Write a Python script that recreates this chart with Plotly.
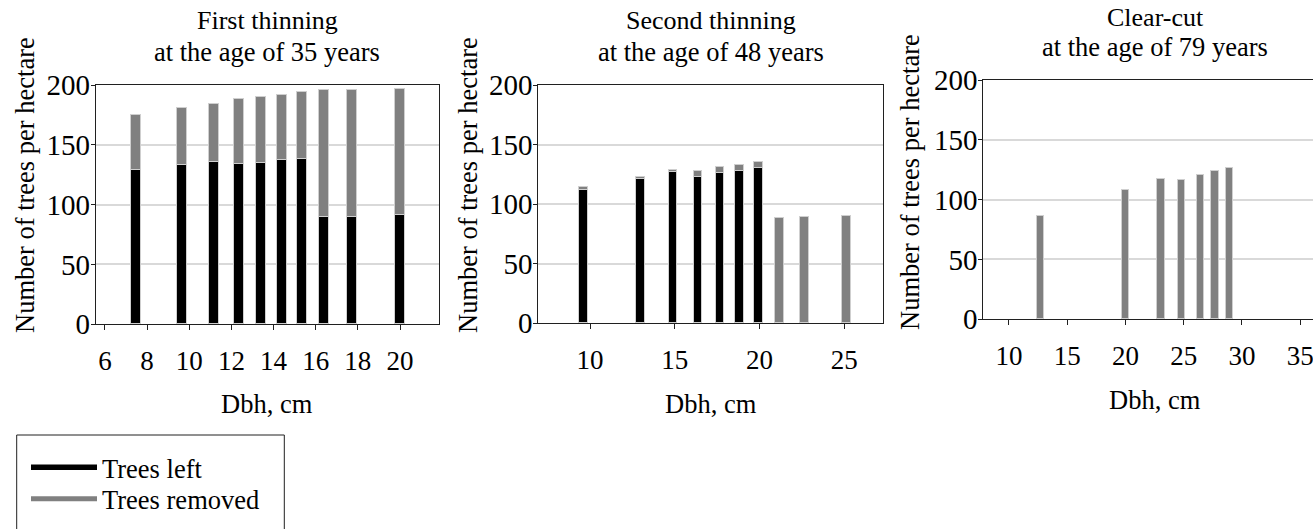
import plotly.graph_objects as go

# ---------------- data ----------------
p1_dbh = [7.44, 9.65, 11.14, 12.35, 13.39, 14.37, 15.35, 16.39, 17.71, 20.0]
p1_left = [129, 133, 136, 134, 135, 137, 138, 90, 90, 91]
p1_removed = [46, 48, 48, 54, 55, 55, 56, 106, 106, 106]

p2_dbh = [9.63, 12.98, 14.91, 16.39, 17.68, 18.82, 19.97, 21.19, 22.65, 25.13]
p2_left = [112, 121, 127, 123, 126, 128, 130, 0, 0, 0]
p2_removed = [2, 1.5, 1.5, 5, 5, 5, 5, 88, 89.5, 90]

p3_dbh = [12.73, 20.05, 23.07, 24.83, 26.48, 27.72, 28.98]
p3_left = [0, 0, 0, 0, 0, 0, 0]
p3_removed = [86, 108, 117.5, 116.5, 120.5, 124, 126.7]

title_line1 = ["First thinning", "Second thinning", "Clear-cut"]
title_line2 = ["at the age of 35 years", "at the age of 48 years", "at the age of 79 years"]
x_title = "Dbh, cm"
y_title = "Number of trees per hectare"
series_names = ["Trees left", "Trees removed"]
y_ticks = [0, 50, 100, 150, 200]

# ---------------- styling ----------------
W, H = 1313, 529
FONT = "Liberation Serif, Times New Roman, Times, serif"
BLACK = "#000000"
GRAY = "#808080"
EDGE = "#cfcfcf"

def px_x(p):
    return p / W

def px_y(p):
    return 1 - p / H

panels = [
    dict(dbh=p1_dbh, left=p1_left, rem=p1_removed, xd=(95.7, 439.0), yd=(85.0, 324.3),
         rng=[5.56, 21.85], dtick=2, width=0.48, tcx=267, t1=4, t2=35,
         ytx=25, yty=185, xty=404),
    dict(dbh=p2_dbh, left=p2_left, rem=p2_removed, xd=(538.3, 883.3), yd=(85.0, 323.3),
         rng=[6.95, 27.3], dtick=5, width=0.52, tcx=711, t1=4, t2=35,
         ytx=468, yty=185, xty=404),
    dict(dbh=p3_dbh, left=p3_left, rem=p3_removed, xd=(983.3, 1313.0), yd=(80.0, 319.3),
         rng=[7.8, 36.1], dtick=5, width=0.63, tcx=1155, t1=0.5, t2=30,
         ytx=910, yty=182, xty=400),
]

fig = go.Figure()
annotations = []
layout_axes = {}

def note(text, x, y, yanchor="middle", angle=0, size=26):
    return dict(text=text, x=px_x(x), y=px_y(y), xref="paper", yref="paper",
                xanchor="center", yanchor=yanchor, textangle=angle, showarrow=False,
                font=dict(family=FONT, size=size, color=BLACK))

for i, p in enumerate(panels):
    n = "" if i == 0 else str(i + 1)
    xa, ya = "x" + n, "y" + n
    fig.add_trace(go.Bar(x=p["dbh"], y=p["left"], xaxis=xa, yaxis=ya, width=p["width"],
                         marker=dict(color=BLACK, line=dict(color=EDGE, width=1)),
                         name=series_names[0], showlegend=False))
    fig.add_trace(go.Bar(x=p["dbh"], y=p["rem"], xaxis=xa, yaxis=ya, width=p["width"],
                         marker=dict(color=GRAY, line=dict(color=EDGE, width=1)),
                         name=series_names[1], showlegend=False))
    last = (i == 2)
    layout_axes["xaxis" + n] = dict(
        domain=[px_x(p["xd"][0]), min(1.0, px_x(p["xd"][1]))],
        anchor=ya, range=p["rng"], dtick=p["dtick"], tick0=0,
        showgrid=False, zeroline=False, showline=True, linecolor="#202020", linewidth=1,
        mirror=True, ticks="outside", ticklen=5, tickcolor="#202020",
        ticklabeloverflow="allow", ticklabelstandoff=7,
        tickfont=dict(family=FONT, size=27, color=BLACK))
    layout_axes["yaxis" + n] = dict(
        domain=[px_y(p["yd"][1]), px_y(p["yd"][0])],
        anchor=xa, range=[0, 200], tickvals=y_ticks,
        showgrid=True, gridcolor="#d9d9d9", gridwidth=1.5, zeroline=False,
        showline=True, linecolor="#202020", linewidth=1, mirror=not last,
        ticks="outside", ticklen=4, tickcolor="#202020",
        ticklabeloverflow="allow", ticklabelstandoff=-5,
        tickfont=dict(family=FONT, size=29, color=BLACK))
    annotations.append(note(title_line1[i], p["tcx"], p["t1"], yanchor="top"))
    annotations.append(note(title_line2[i], p["tcx"], p["t2"], yanchor="top", size=26.5))
    annotations.append(note(x_title, p["tcx"], p["xty"], size=26.5))
    annotations.append(note(y_title, p["ytx"], p["yty"], angle=-90, size=26.5))

# legend entries (line samples)
fig.add_trace(go.Scatter(x=[None], y=[None], mode="lines", name=series_names[0],
                         line=dict(color=BLACK, width=5.5), legend="legend"))
fig.add_trace(go.Scatter(x=[None], y=[None], mode="lines", name=series_names[1],
                         line=dict(color=GRAY, width=5), legend="legend2"))

legend_common = dict(xanchor="left", yanchor="middle", bgcolor="rgba(0,0,0,0)",
                     borderwidth=0, itemwidth=66,
                     font=dict(family=FONT, size=26.5, color=BLACK))

fig.update_layout(
    width=W, height=H, margin=dict(l=0, r=0, t=0, b=0, autoexpand=False),
    paper_bgcolor="white", plot_bgcolor="white",
    barmode="stack", bargap=0,
    annotations=annotations,
    legend=dict(x=px_x(26), y=px_y(467.5), **legend_common),
    legend2=dict(x=px_x(26), y=px_y(499), **legend_common),
    shapes=[dict(type="rect", xref="paper", yref="paper",
                 x0=px_x(16.7), x1=px_x(284.3), y0=px_y(540), y1=px_y(435),
                 line=dict(color="#202020", width=1), fillcolor="rgba(0,0,0,0)")],
    **layout_axes,
)

post = (
    "document.body.style.margin='0';"
    "var gd=document.getElementById('{plot_id}');"
    "if(document.fonts&&document.fonts.load){"
    "document.fonts.load('26px \"Liberation Serif\"').then(function(){"
    "Plotly.react(gd, gd.data, gd.layout);});}"
)

fig.write_html("out.html", config={"displayModeBar": False}, post_script=post)
